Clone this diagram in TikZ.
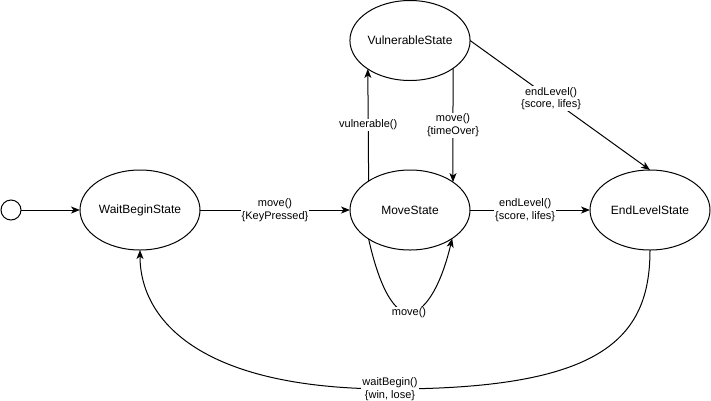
\documentclass[tikz,border=0pt]{standalone}
\usepackage{fontspec}
\setmainfont{Liberation Sans}
\usetikzlibrary{shapes.geometric,arrows.meta}
\begin{document}
\begin{tikzpicture}[x=1pt,y=-1pt,
 state/.style={ellipse,draw,line width=1pt,minimum width=120pt,minimum height=80pt,inner sep=0pt,outer sep=0pt,font=\fontsize{12}{14}\selectfont},
 arr/.style={line width=1pt,-{Stealth[length=9pt,width=7pt,inset=2.5pt]}},
 lbl/.style={fill=white,inner sep=1pt,align=center,font=\fontsize{11}{12.5}\selectfont}]
\useasboundingbox (0,0) rectangle (711,400);
\node[circle,draw,line width=1pt,minimum size=20pt,inner sep=0pt,outer sep=0pt] (init) at (11,210) {};
\node[state] (wait) at (140,210) {WaitBeginState};
\node[state] (move) at (410,210) {MoveState};
\node[state] (endl) at (650,210) {EndLevelState};
\node[state] (vul) at (410,40.5) {VulnerableState};
\draw[arr] (init) -- (wait);
\draw[arr] (wait) -- node[lbl]{move()\\\{KeyPressed\}} (move);
\draw[arr] (move) -- node[lbl,pos=0.46]{endLevel()\\\{score, lifes\}} (endl);
\draw[arr] (move.145.7) -- node[lbl]{vulnerable()} (vul.214.3);
\draw[arr] (vul.327) -- node[lbl]{move()\\\{timeOver\}} (move.33);
\draw[arr] (vul.east) -- node[lbl,pos=0.45]{endLevel()\\\{score, lifes\}} (endl.north);
\draw[arr] (move.215) .. controls (380,290) and (395,313) .. (409,313) node[lbl]{move()} .. controls (423,313) and (440,290) .. (move.-34);
\draw[arr] (endl.south) .. controls (650,340) and (600,389) .. (390,389) node[lbl]{waitBegin()\\\{win, lose\}} .. controls (200,389) and (140,320) .. (wait.south);
\end{tikzpicture}
\end{document}
